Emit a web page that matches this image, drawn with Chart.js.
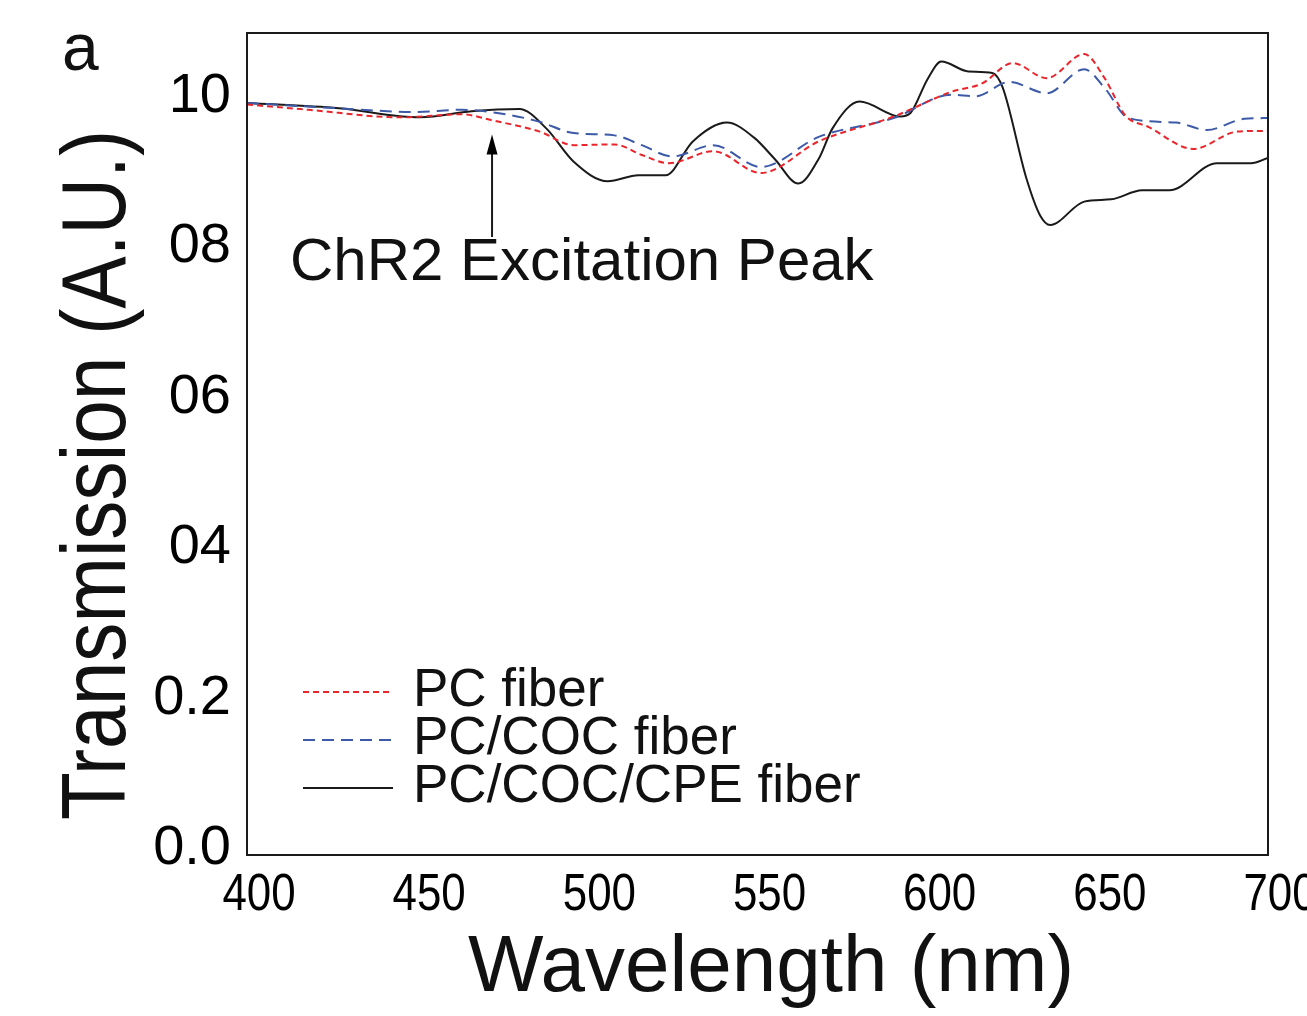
<!DOCTYPE html>
<html>
<head>
<meta charset="utf-8">
<script src="https://cdn.jsdelivr.net/npm/chart.js@4.4.1/dist/chart.umd.min.js"></script>
<style>
  body { margin: 0; background: #fff; }
  #wrap { width: 1307px; height: 1016px; }
</style>
</head>
<body>
<div id="wrap"><canvas id="specChart" width="1307" height="1016"></canvas></div>
<script>
// transmission spectra
var pcWl  = [400, 418, 445, 463, 472, 486, 496, 508, 516, 524, 537, 551, 568, 590, 607, 616, 625, 635, 646, 652, 658, 665, 678, 691, 700];
var pcT   = [0.997, 0.990, 0.980, 0.984, 0.976, 0.961, 0.943, 0.944, 0.930, 0.919, 0.935, 0.906, 0.948, 0.981, 1.014, 1.025, 1.052, 1.032, 1.064, 1.032, 0.983, 0.967, 0.938, 0.961, 0.962];

var cocWl = [400, 427, 449, 463, 476, 486, 496, 508, 516, 525, 537, 551, 568, 590, 607, 614, 624, 635, 646, 652, 659, 673, 682, 693, 700];
var cocT  = [0.999, 0.992, 0.987, 0.990, 0.984, 0.974, 0.959, 0.956, 0.943, 0.928, 0.943, 0.914, 0.954, 0.979, 1.010, 1.008, 1.027, 1.012, 1.044, 1.019, 0.979, 0.973, 0.963, 0.978, 0.979];

var cpeWl = [400, 427, 451, 466, 480, 488, 496, 506, 515, 523, 531, 541, 549, 555, 562, 568, 572, 580, 592, 595, 600, 604, 612, 619, 622, 629, 633, 636, 646, 654, 663, 671, 685, 695, 700];
var cpeT  = [0.999, 0.992, 0.980, 0.988, 0.991, 0.965, 0.921, 0.895, 0.903, 0.903, 0.948, 0.973, 0.953, 0.925, 0.892, 0.925, 0.965, 1.001, 0.981, 0.986, 1.031, 1.054, 1.041, 1.039, 1.020, 0.899, 0.850, 0.837, 0.868, 0.871, 0.883, 0.883, 0.919, 0.919, 0.926];

var seriesNames = ['PC fiber', 'PC/COC fiber', 'PC/COC/CPE fiber'];
var xTicks = [400, 450, 500, 550, 600, 650, 700];
var yTicks = [0.0, 0.2, 0.4, 0.6, 0.8, 1.0];
var yTickLabels = ['0.0', '0.2', '04', '06', '08', '10'];
var peakWl = 472;

function pts(xs, ys) {
    return xs.map(function(x, i){ return {x: x, y: ys[i]}; });
}

var sans = '"Liberation Sans", Arial, sans-serif';

// frame, x tick labels, annotation, legend, axis titles, panel letter
var extrasPlugin = {
    id: 'extras',
    afterDraw: function(chart){
        var ctx = chart.ctx;
        var a = chart.chartArea;
        var xs = chart.scales.x, ys = chart.scales.y;
        ctx.save();
        ctx.strokeStyle = '#1a1a1a';
        ctx.lineWidth = 2;
        ctx.strokeRect(a.left, a.top, a.right - a.left, a.bottom - a.top);

        // condensed x tick labels, placed by the x scale
        ctx.fillStyle = '#000';
        ctx.font = '51px ' + sans;
        ctx.textAlign = 'center';
        ctx.textBaseline = 'alphabetic';
        xs.ticks.forEach(function(t){
            var tx = xs.getPixelForValue(t.value) + 12;
            ctx.save();
            ctx.translate(tx, a.bottom + 55);
            ctx.scale(0.86, 1);
            ctx.fillText(String(t.value), 0, 0);
            ctx.restore();
        });

        // arrow to the excitation peak
        var px = xs.getPixelForValue(peakWl);
        var yTip = ys.getPixelForValue(0.957);
        var yEnd = ys.getPixelForValue(0.821);
        ctx.lineWidth = 2;
        ctx.beginPath();
        ctx.moveTo(px, yEnd);
        ctx.lineTo(px, yTip + 18);
        ctx.stroke();
        ctx.beginPath();
        ctx.moveTo(px, yTip);
        ctx.lineTo(px - 5.5, yTip + 20);
        ctx.lineTo(px + 5.5, yTip + 20);
        ctx.closePath();
        ctx.fill();

        ctx.font = '60px ' + sans;
        ctx.textAlign = 'left';
        ctx.fillStyle = '#111';
        ctx.fillText('ChR2 Excitation Peak', 290, 280);

        // legend
        ctx.font = '53px ' + sans;
        chart.data.datasets.forEach(function(ds, i){
            var ly = 692 + i * 48;
            ctx.strokeStyle = ds.borderColor;
            ctx.lineWidth = 2;
            ctx.setLineDash(ds.borderDash || []);
            ctx.beginPath();
            ctx.moveTo(303, ly);
            ctx.lineTo(393, ly);
            ctx.stroke();
            ctx.setLineDash([]);
            ctx.fillText(ds.label, 413, ly + 14);
        });

        // x axis title
        ctx.font = '80px ' + sans;
        ctx.textAlign = 'center';
        ctx.fillText('Wavelength (nm)', 771, 991);

        // y axis title
        ctx.save();
        ctx.translate(125, 475);
        ctx.rotate(-Math.PI / 2);
        ctx.font = '90px ' + sans;
        var w = ctx.measureText('Transmission (A.U.)').width;
        ctx.scale(690 / w, 1);
        ctx.textAlign = 'center';
        ctx.fillText('Transmission (A.U.)', 0, 0);
        ctx.restore();

        ctx.textAlign = 'left';
        ctx.font = '66px ' + sans;
        ctx.fillText('a', 62, 70);
        ctx.restore();
    }
};

var ctx = document.getElementById('specChart').getContext('2d');
var specChart = new Chart(ctx, {
    type: 'line',
    data: {
        datasets: [{
            label: seriesNames[0],
            data: pts(pcWl, pcT),
            borderColor: '#e8262b',
            borderDash: [6, 4],
            borderWidth: 2
        }, {
            label: seriesNames[1],
            data: pts(cocWl, cocT),
            borderColor: '#3d5aa8',
            borderDash: [12, 7],
            borderWidth: 2
        }, {
            label: seriesNames[2],
            data: pts(cpeWl, cpeT),
            borderColor: '#1a1a1a',
            borderWidth: 2
        }]
    },
    options: {
        responsive: false,
        animation: false,
        layout: { padding: { top: 33, right: 39, left: 0, bottom: 0 } },
        elements: {
            point: { radius: 0 },
            line: { cubicInterpolationMode: 'monotone', fill: false }
        },
        plugins: {
            legend: { display: false },
            tooltip: { enabled: false }
        },
        scales: {
            x: {
                type: 'linear',
                min: 400,
                max: 700,
                grid: { display: false, drawTicks: false },
                border: { display: false },
                afterBuildTicks: function(scale){
                    scale.ticks = xTicks.map(function(v){ return {value: v}; });
                },
                afterFit: function(scale){
                    scale.height = 161;
                    scale.paddingLeft = 0;
                    scale.paddingRight = 0;
                },
                ticks: { display: false }
            },
            y: {
                min: 0,
                max: 1.092,
                grid: { display: false, drawTicks: false },
                border: { display: false },
                afterBuildTicks: function(scale){
                    scale.ticks = yTicks.map(function(v){ return {value: v}; });
                },
                afterFit: function(scale){
                    scale.width = 247;
                    scale.paddingTop = 0;
                    scale.paddingBottom = 0;
                },
                ticks: {
                    padding: 16,
                    labelOffset: -6,
                    color: '#000',
                    font: { family: sans, size: 56 },
                    callback: function(v){
                        var i = Math.round(v / 0.2);
                        return yTickLabels[i] || '';
                    }
                }
            }
        }
    },
    plugins: [extrasPlugin]
});
</script>
</body>
</html>
